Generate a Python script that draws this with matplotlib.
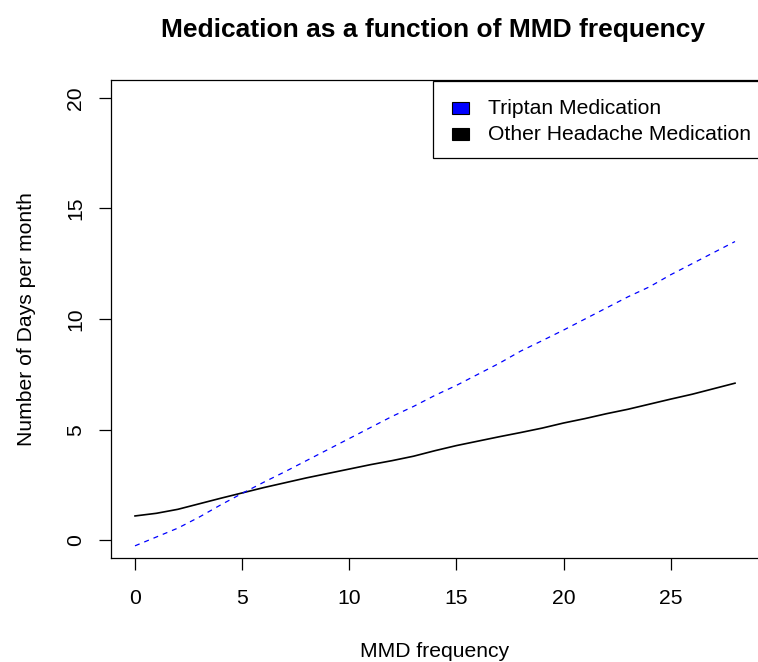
import matplotlib
matplotlib.use("Agg")
import matplotlib.pyplot as plt
from matplotlib.patches import Rectangle

plt.rcParams["font.family"] = ["Liberation Sans", "DejaVu Sans"]

# Fitted days per month against monthly migraine days (MMD)
mmd = list(range(0, 29))
triptan = [-0.25, 0.15, 0.55, 1.05, 1.6, 2.12, 2.62, 3.1, 3.6, 4.1,
           4.6, 5.1, 5.6, 6.05, 6.55, 7.0, 7.5, 8.0, 8.55, 9.02,
           9.5, 10.0, 10.5, 11.0, 11.45, 12.0, 12.5, 13.0, 13.5]
other = [1.1, 1.22, 1.4, 1.65, 1.9, 2.14, 2.38, 2.6, 2.82, 3.02,
         3.22, 3.42, 3.6, 3.8, 4.05, 4.28, 4.48, 4.68, 4.87, 5.07,
         5.3, 5.5, 5.72, 5.92, 6.15, 6.38, 6.6, 6.85, 7.1]
legend_labels = ["Triptan Medication", "Other Headache Medication"]
legend_colors = ["blue", "black"]
x_ticks = [0, 5, 10, 15, 20, 25]
y_ticks = [0, 5, 10, 15, 20]

W, H = 758, 662
FS = 15.2
fig = plt.figure(figsize=(W / 100, H / 100), dpi=100)


def fx(px):
    return px / W


def fy(py):
    return 1 - py / H


# plot region in pixel terms: left 111, right ~759, top 80, bottom 558
ax = fig.add_axes([fx(111), fy(558), 648 / W, (558 - 80) / H])

ax.plot(mmd, other, color="black", lw=1.2)
ax.plot(mmd, triptan, color="blue", lw=0.9, dashes=(4, 4))

ax.set_xlim(-1.12, 29.12)
ax.set_ylim(-0.8, 20.8)
ax.set_xticks(x_ticks)
ax.set_yticks(y_ticks)
ax.tick_params(direction="out", length=8.6, width=0.9, labelsize=FS, pad=10)
ax.tick_params(axis="x", pad=14)
ax.tick_params(axis="y", labelrotation=90)
for lab in ax.get_yticklabels():
    lab.set_va("center")
for s in ax.spines.values():
    s.set_linewidth(0.9)

ax.set_xlabel("MMD frequency", fontsize=FS, labelpad=24)
ax.set_ylabel("Number of Days per month", fontsize=FS, labelpad=22)
fig.text(fx(433), fy(30), "Medication as a function of MMD frequency",
         ha="center", va="center", fontsize=19, fontweight="bold")

# legend box in the top-right corner, drawn with fill swatches like base R
fig.patches.append(Rectangle((fx(433), fy(158)), (760 - 433) / W, (158 - 81) / H,
                             transform=fig.transFigure, facecolor="white",
                             edgecolor="black", lw=0.9, zorder=5))
for i, (lab, col) in enumerate(zip(legend_labels, legend_colors)):
    yc = 108 + 26 * i
    fig.patches.append(Rectangle((fx(452), fy(yc + 6)), 17 / W, 12 / H,
                                 transform=fig.transFigure, facecolor=col,
                                 edgecolor="black", lw=0.8, zorder=6))
    fig.text(fx(488), fy(yc), lab, ha="left", va="center", fontsize=FS, zorder=6)

fig.savefig("out.png", dpi=100, facecolor="white")
